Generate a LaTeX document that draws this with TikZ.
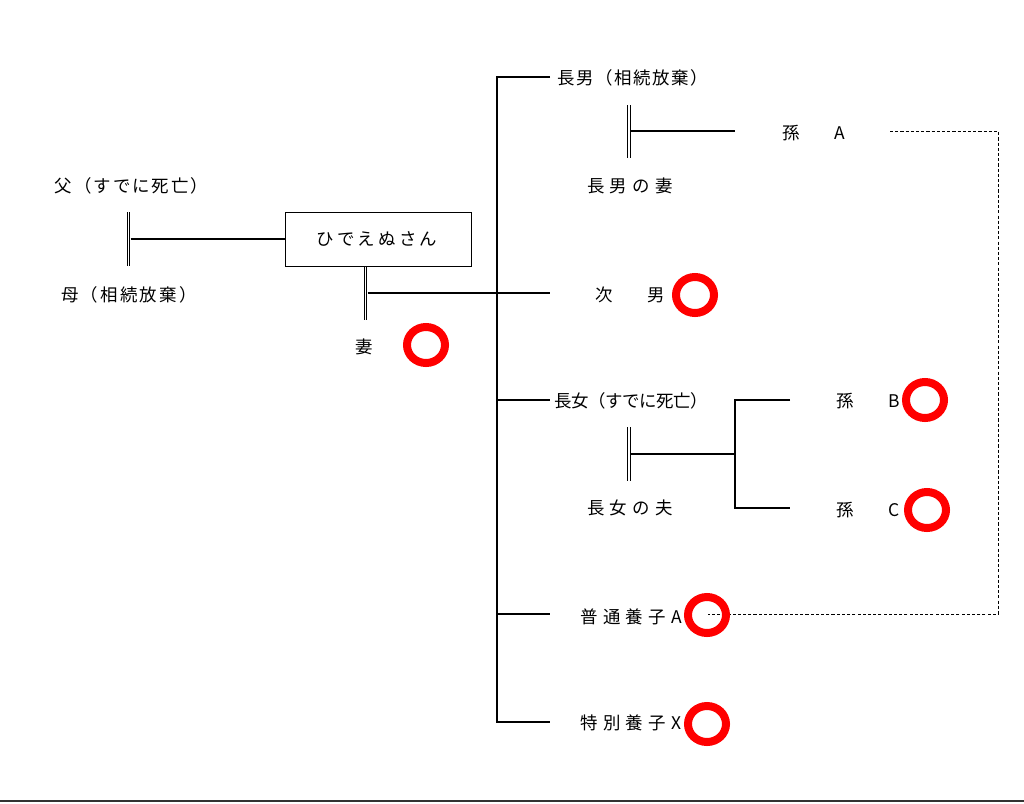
\documentclass[tikz,border=0pt]{standalone}
\usepackage{fontspec}
\setmainfont{Noto Sans CJK JP}
\usetikzlibrary{shapes.geometric}

\begin{document}
\begin{tikzpicture}[x=0.025cm, y=-0.025cm,
    every node/.style={font=\fontsize{12.4}{14}\selectfont, inner sep=0pt},
    track/.style={font=\fontsize{12.4}{14}\selectfont\addfontfeature{LetterSpace=#1}},
    line/.style={line width=1.4pt},
    marriage/.style={double, line width=0.7pt, double distance=1.1pt},
    dashline/.style={line width=0.6pt, dash pattern=on 2.2pt off 1.5pt},
    ok/.style={ellipse, draw=red, line width=0.2cm, minimum width=0.95cm, minimum height=0.9cm}]
    \useasboundingbox (0,0) rectangle (1024,803);

    % 養子との線（点線）
    \coordinate (dA) at (890,131);
    \coordinate (dR1) at (998,131);
    \coordinate (dR2) at (998,614);
    \coordinate (dEnd) at (708,614);
    \draw[dashline] (dA) -- (dR1) -- (dR2) -- (dEnd);

    % 父母
    \node[track=11] (fu) at (131.5,186) {父（すでに死亡）};
    \node[track=13] (haha) at (129,295) {母（相続放棄）};
    \coordinate (fuTop) at (128.5,212);
    \coordinate (fuBot) at (128.5,266);
    \coordinate (fuMid) at (130.5,239);
    \draw[marriage] (fuTop) -- (fuBot);

    % 本人
    \node[draw, line width=0.7pt, minimum width=4.625cm, minimum height=1.35cm] (hon) at (378.5,239) {};
    \node[track=18] (honName) at (377,239) {ひでえぬさん};
    \draw[line] (fuMid) -- (hon.west |- fuMid);

    % 妻
    \node (tsuma) at (364,347) {妻};
    \node[ok] (okTsuma) at (426,345) {};
    \coordinate (tsTop) at (hon.south -| 365.5,0);
    \coordinate (tsBot) at (365.5,320);
    \coordinate (tsMid) at (367.5,293);
    \coordinate (b2) at (550,293);
    \draw[marriage] (tsTop) -- (tsBot);
    \draw[line] (tsMid) -- (b2);

    % 子の縦線
    \coordinate (trTop) at (497,77);
    \coordinate (trBot) at (497,722);
    \coordinate (j3) at (497,400);
    \coordinate (j4) at (497,614);
    \coordinate (b1) at (550,77);
    \coordinate (b3) at (550,400);
    \coordinate (b4) at (550,614);
    \coordinate (b5) at (550,722);
    \draw[line] (b1) -- (trTop) -- (trBot) -- (b5);
    \draw[line] (j3) -- (b3);
    \draw[line] (j4) -- (b4);

    % 長男
    \node[track=9] (chonan) at (633,78) {長男（相続放棄）};
    \node[track=30] (chonanTsuma) at (630,186) {長男の妻};
    \coordinate (cnTop) at (629,105);
    \coordinate (cnBot) at (629,158);
    \coordinate (cnMid) at (631,131);
    \coordinate (cnEnd) at (735,131);
    \draw[marriage] (cnTop) -- (cnBot);
    \draw[line] (cnMid) -- (cnEnd);
    \node (magoA) at (814,133) {孫　　A};

    % 次男
    \node (jinan) at (630,295) {次　　男};
    \node[ok] (okJinan) at (695,295) {};

    % 長女
    \node[track=-3] (chojo) at (631,401) {長女（すでに死亡）};
    \node[track=30] (chojoOtto) at (630,508) {長女の夫};
    \coordinate (cjTop) at (629,427);
    \coordinate (cjBot) at (629,481);
    \coordinate (cjMid) at (631,454);
    \coordinate (cjJ) at (735,454);
    \coordinate (cjUp) at (735,400);
    \coordinate (cjDn) at (735,508);
    \coordinate (bB) at (790,400);
    \coordinate (bC) at (790,508);
    \draw[marriage] (cjTop) -- (cjBot);
    \draw[line] (cjMid) -- (cjJ);
    \draw[line] (bB) -- (cjUp) -- (cjDn) -- (bC);
    \node (magoB) at (868,401) {孫　　B};
    \node[ok] (okB) at (925,400) {};
    \node (magoC) at (868,510) {孫　　C};
    \node[ok] (okC) at (927,510) {};

    % 養子
    \node[track=30] (yoshiA) at (631,617) {普通養子A};
    \node[ok] (okA) at (707,615) {};
    \node[track=30] (yoshiX) at (631,723) {特別養子X};
    \node[ok] (okX) at (707,724) {};

    % 下の線
    \coordinate (bl) at (0,801);
    \coordinate (br) at (1024,801);
    \draw[line width=1.4pt, black!80] (bl) -- (br);
\end{tikzpicture}
\end{document}
